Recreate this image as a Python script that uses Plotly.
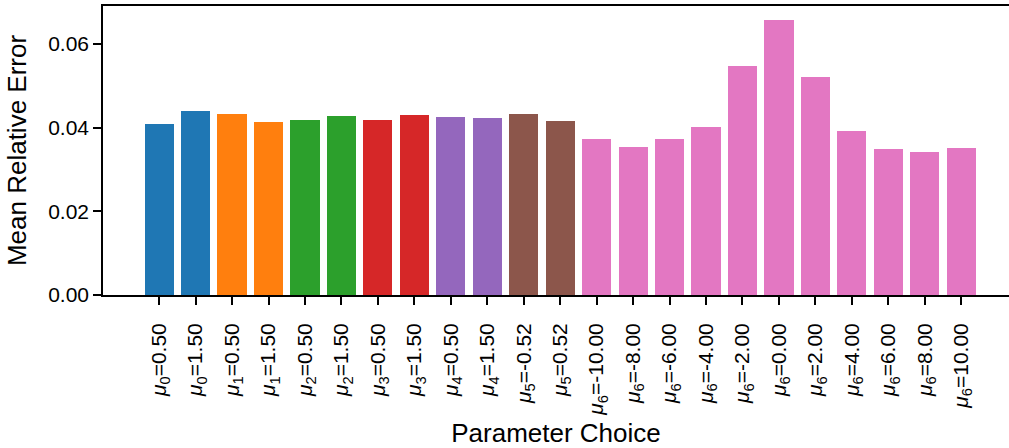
import plotly.graph_objects as go

# Parameter settings (mu index, value) and the mean relative error measured for each
param_index = [0, 0, 1, 1, 2, 2, 3, 3, 4, 4, 5, 5,
               6, 6, 6, 6, 6, 6, 6, 6, 6, 6, 6]
param_value = ["0.50", "1.50", "0.50", "1.50", "0.50", "1.50", "0.50", "1.50",
               "0.50", "1.50", "-0.52", "0.52",
               "-10.00", "-8.00", "-6.00", "-4.00", "-2.00", "0.00",
               "2.00", "4.00", "6.00", "8.00", "10.00"]
mean_rel_error = [0.0409, 0.0440, 0.0433, 0.0414, 0.0419, 0.0428, 0.0419, 0.0431,
                  0.0426, 0.0424, 0.0433, 0.0417,
                  0.0374, 0.0354, 0.0374, 0.0402, 0.0548, 0.0658,
                  0.0522, 0.0393, 0.0350, 0.0342, 0.0352]
group_colors = ["#1f77b4", "#ff7f0e", "#2ca02c", "#d62728",
                "#9467bd", "#8c564b", "#e377c2"]

positions = list(range(len(mean_rel_error)))
tick_text = [f"<i>μ</i><sub>{i}</sub>={v}" for i, v in zip(param_index, param_value)]
bar_colors = [group_colors[i] for i in param_index]

FONT = "Liberation Sans, Arial, sans-serif"

fig = go.Figure(
    go.Bar(
        x=positions,
        y=mean_rel_error,
        width=0.8,
        marker=dict(color=bar_colors, line=dict(width=0)),
        hoverinfo="x+y",
    )
)

fig.update_layout(
    width=1009,
    height=448,
    margin=dict(l=103, r=0, t=6, b=153),
    paper_bgcolor="white",
    plot_bgcolor="white",
    font=dict(family=FONT, color="black", size=21),
    showlegend=False,
    bargap=0,
)

fig.update_xaxes(
    range=[-1.54, 23.31],
    tickmode="array",
    tickvals=positions,
    ticktext=tick_text,
    tickangle=-90,
    ticks="outside",
    ticklen=8,
    tickwidth=1.6,
    tickcolor="black",
    ticklabelstandoff=10,
    tickfont=dict(size=21, family=FONT),
    showline=True,
    linewidth=1.6,
    linecolor="black",
    mirror=True,
    showgrid=False,
    zeroline=False,
    title=dict(text="Parameter Choice", font=dict(size=26, family=FONT), standoff=9),
)

fig.update_yaxes(
    range=[0, 0.0691],
    tickmode="array",
    tickvals=[0, 0.02, 0.04, 0.06],
    tickformat=".2f",
    ticks="outside",
    ticklen=8,
    tickwidth=1.6,
    tickcolor="black",
    tickfont=dict(size=21, family=FONT),
    showline=True,
    linewidth=1.6,
    linecolor="black",
    showgrid=False,
    zeroline=False,
    title=dict(text="Mean Relative Error", font=dict(size=26, family=FONT), standoff=14),
)

fig.write_html("out.html")
